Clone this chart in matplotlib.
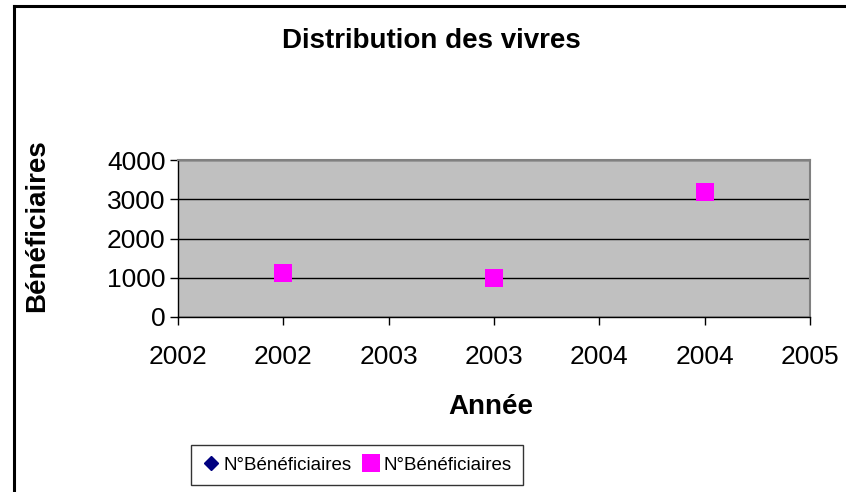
import matplotlib.pyplot as plt
from matplotlib.lines import Line2D

plt.rcParams['font.family'] = ['Liberation Sans', 'DejaVu Sans']

# donnees
annees = [2002, 2003, 2004]
beneficiaires = [1120, 1000, 3180]

xticks = [2001.5, 2002.0, 2002.5, 2003.0, 2003.5, 2004.0, 2004.5]
xtick_labels = ['2002', '2002', '2003', '2003', '2004', '2004', '2005']
yticks = [0, 1000, 2000, 3000, 4000]

fig = plt.figure(figsize=(8.46, 4.92), dpi=100)
ax = fig.add_axes([178 / 846, 1 - 317 / 492, (810 - 178) / 846, (317 - 160) / 492])
ax.set_facecolor('#C0C0C0')

# serie vide (apparait seulement dans la legende)
ax.plot([], [], linestyle='none', marker='D', color='#000080', markersize=7,
        label='N°Bénéficiaires')
ax.plot(annees, beneficiaires, linestyle='none', marker='s', color='#FF00FF',
        markersize=13, markeredgewidth=0, label='N°Bénéficiaires', zorder=3)

ax.set_xlim(2001.5, 2004.5)
ax.set_ylim(0, 4000)
ax.set_xticks(xticks)
ax.set_xticklabels(xtick_labels)
ax.set_yticks(yticks)
ax.tick_params(axis='x', labelsize=19, length=6, width=1, direction='out', pad=14)
ax.tick_params(axis='y', labelsize=19, length=6, width=1, direction='out', pad=3)

ax.grid(axis='y', color='black', linewidth=1)
ax.set_axisbelow(True)
for s in ['top', 'right']:
    ax.spines[s].set_color('#808080')
    ax.spines[s].set_linewidth(1.5)
for s in ['left', 'bottom']:
    ax.spines[s].set_color('black')
    ax.spines[s].set_linewidth(1)

fig.text(431 / 846, 1 - 41 / 492, 'Distribution des vivres', ha='center', va='center',
         fontsize=20, fontweight='bold')
fig.text(491 / 846, 1 - 407 / 492, 'Année', ha='center', va='center',
         fontsize=20, fontweight='bold')
fig.text(37 / 846, 1 - 226 / 492, 'Bénéficiaires', ha='center', va='center',
         rotation=90, fontsize=20, fontweight='bold')

leg = fig.legend(loc='center', bbox_to_anchor=(357 / 846, 1 - 465 / 492), ncol=2,
                 fontsize=13.5, frameon=True, fancybox=False, handletextpad=0.25,
                 columnspacing=0.55, handlelength=0.9, borderpad=0.6)
leg.get_frame().set_edgecolor('black')
leg.get_frame().set_linewidth(1)

# cadre exterieur
fig.add_artist(Line2D([14 / 846, 14 / 846], [0, 1 - 6 / 492], color='black', linewidth=2.2))
fig.add_artist(Line2D([14 / 846, 1], [1 - 6 / 492, 1 - 6 / 492], color='black', linewidth=2.2))

fig.savefig('out.png', dpi=100)
